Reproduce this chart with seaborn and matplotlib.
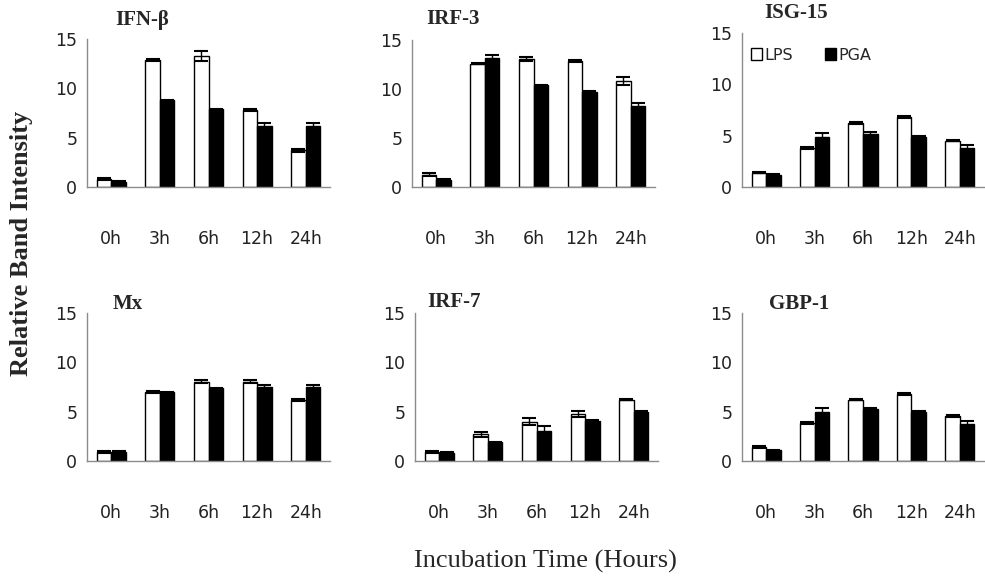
import matplotlib
matplotlib.use("Agg")
import matplotlib.pyplot as plt
import seaborn as sns
import pandas as pd
from matplotlib.patches import Patch

sns.set_style("white")
plt.rcParams['font.family'] = ['DejaVu Sans']

# ---- data ----
times = ["0h", "3h", "6h", "12h", "24h"]
treatments = ["LPS", "PGA"]
genes = ["IFN-β", "IRF-3", "ISG-15", "Mx", "IRF-7", "GBP-1"]

ifnb_lps = [0.8, 12.9, 13.3, 7.8, 3.7]
ifnb_pga = [0.55, 8.8, 7.9, 6.2, 6.2]
ifnb_lps_err = [0.1, 0.1, 0.5, 0.1, 0.2]
ifnb_pga_err = [0.05, 0.05, 0.05, 0.3, 0.3]

irf3_lps = [1.25, 12.6, 13.1, 12.9, 10.8]
irf3_pga = [0.75, 13.2, 10.4, 9.7, 8.25]
irf3_lps_err = [0.15, 0.05, 0.2, 0.1, 0.4]
irf3_pga_err = [0.05, 0.3, 0.05, 0.05, 0.3]

isg15_lps = [1.4, 3.8, 6.2, 6.8, 4.5]
isg15_pga = [1.2, 4.9, 5.15, 4.9, 3.8]
isg15_lps_err = [0.05, 0.05, 0.1, 0.1, 0.05]
isg15_pga_err = [0.05, 0.35, 0.25, 0.05, 0.25]

mx_lps = [0.95, 6.95, 8.05, 8.05, 6.2]
mx_pga = [0.95, 6.95, 7.35, 7.45, 7.45]
mx_lps_err = [0.1, 0.1, 0.15, 0.15, 0.1]
mx_pga_err = [0.05, 0.05, 0.05, 0.3, 0.3]

irf7_lps = [0.9, 2.7, 4.0, 4.8, 6.2]
irf7_pga = [0.85, 1.9, 3.0, 4.1, 5.0]
irf7_lps_err = [0.1, 0.25, 0.35, 0.3, 0.05]
irf7_pga_err = [0.05, 0.05, 0.5, 0.05, 0.05]

gbp1_lps = [1.45, 3.85, 6.2, 6.75, 4.55]
gbp1_pga = [1.1, 5.0, 5.3, 5.0, 3.8]
gbp1_lps_err = [0.1, 0.1, 0.05, 0.1, 0.1]
gbp1_pga_err = [0.05, 0.35, 0.1, 0.05, 0.25]

lps_vals = [ifnb_lps, irf3_lps, isg15_lps, mx_lps, irf7_lps, gbp1_lps]
pga_vals = [ifnb_pga, irf3_pga, isg15_pga, mx_pga, irf7_pga, gbp1_pga]
lps_errs = [ifnb_lps_err, irf3_lps_err, isg15_lps_err, mx_lps_err, irf7_lps_err, gbp1_lps_err]
pga_errs = [ifnb_pga_err, irf3_pga_err, isg15_pga_err, mx_pga_err, irf7_pga_err, gbp1_pga_err]

rows = []
for g, lv, pv in zip(genes, lps_vals, pga_vals):
    for t, a, b in zip(times, lv, pv):
        rows.append({"gene": g, "time": t, "treatment": "LPS", "value": a})
        rows.append({"gene": g, "time": t, "treatment": "PGA", "value": b})
df = pd.DataFrame(rows)

# ---- layout (pixel boxes: left, right, top, bottom) ----
W, H = 985, 576
boxes = [(87, 330, 39, 187), (412, 655, 40, 187), (742, 984, 33, 187),
         (87, 330, 313, 461), (415, 658, 313, 461), (742, 984, 313, 461)]
title_pos = [(115, 20), (426, 19), (764, 13), (113, 304), (427, 302), (769, 304)]

fig = plt.figure(figsize=(W / 100, H / 100), dpi=100)
grey = "#8c8c8c"

for i, g in enumerate(genes):
    l, r, t, b = boxes[i]
    ax = fig.add_axes([l / W, 1 - b / H, (r - l) / W, (b - t) / H])
    sub = df[df.gene == g]
    sns.barplot(data=sub, x="time", y="value", hue="treatment", order=times,
                hue_order=treatments, palette={"LPS": "white", "PGA": "black"},
                edgecolor="black", linewidth=1.0, width=0.6, errorbar=None,
                ax=ax, legend=False)
    for cont, err in zip(ax.containers, [lps_errs[i], pga_errs[i]]):
        xs = [p.get_x() + p.get_width() / 2 for p in cont.patches]
        hs = [p.get_height() for p in cont.patches]
        ax.errorbar(xs, hs, yerr=err, fmt="none", ecolor="black",
                    elinewidth=1.0, capsize=5, capthick=1.5)
    ax.set_xlim(-0.5, 4.5)
    ax.set_ylim(0, 15)
    ax.set_yticks([0, 5, 10, 15])
    ax.set_xlabel("")
    ax.set_ylabel("")
    for s in ["top", "right"]:
        ax.spines[s].set_visible(False)
    for s in ["left", "bottom"]:
        ax.spines[s].set_color(grey)
        ax.spines[s].set_linewidth(1.0)
    ax.tick_params(axis="y", which="major", length=4, color=grey, width=1,
                   labelsize=12.5, labelcolor="#222222", pad=3)
    ax.tick_params(axis="x", which="major", length=0, pad=31,
                   labelsize=12.5, labelcolor="#222222")
    ax.set_xticks([0.5, 1.5, 2.5, 3.5], minor=True)
    ax.tick_params(axis="x", which="minor", length=5, color=grey, width=1,
                   direction="out")
    tx, ty = title_pos[i]
    fig.text(tx / W, 1 - ty / H, g, fontfamily="Liberation Serif",
             fontweight="bold", fontsize=15, ha="left", va="center")
    if g == "ISG-15":
        handles = [Patch(facecolor="white", edgecolor="black", label="LPS"),
                   Patch(facecolor="black", edgecolor="black", label="PGA")]
        ax.legend(handles=handles, loc="center left", bbox_to_anchor=(0.01, 0.857),
                  ncol=2, frameon=False, handlelength=0.7, handleheight=0.7,
                  handletextpad=0.15, columnspacing=2.0, fontsize=11.5,
                  borderaxespad=0)

fig.text(22 / W, 1 - 243 / H, "Relative Band Intensity", rotation=90,
         fontfamily="Liberation Serif", fontweight="bold", fontsize=19,
         ha="center", va="center")
fig.text(545 / W, 1 - 561 / H, "Incubation Time (Hours)",
         fontfamily="Liberation Serif", fontsize=19, ha="center", va="center")

fig.savefig("out.png", dpi=100, facecolor="white")
